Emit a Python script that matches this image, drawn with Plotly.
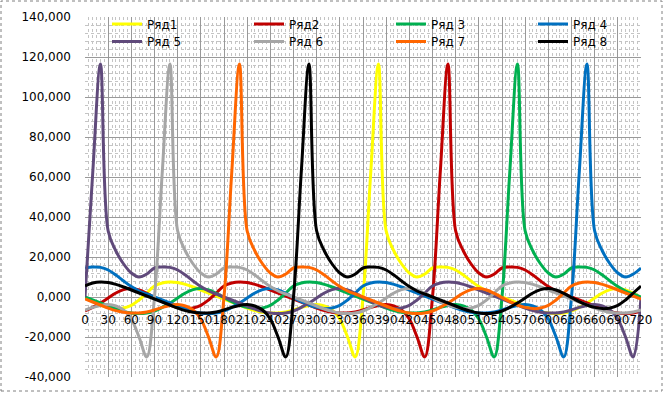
import plotly.graph_objects as go

# crank angle categories (degrees)
angles = list(range(0, 721, 10))

# series values
ryad1 = [-0.3, -2.3, -4, -5.2, -5.8, -5.5,
         -4.2, -1.5, 2, 5.5, 7, 7.5, 7.2, 6.3, 5, 3.5,
         2, 0.5, -1, -2.5, -4, -5.5, -6.8, -7.6, -8, -8,
         -7.5, -6.5, -5.2, -4.2, -3.8, -4.5, -6.5, -11, -20, -30,
         0, 62,
         116.5, 33, 23, 16.5, 12, 10, 11.5, 14.5, 15, 14.8,
         13.5, 11, 8, 5.2, 3, 1.5, 0, -1.5, -3, -4.5,
         -6, -7.2, -8, -8.3, -8, -7, -5.2, -3, -0.5, 2,
         3.7, 4.2, 3.5, 1.8, -0.3]
ryad2 = [-7, -5.2, -3, -0.5, 2,
         3.7, 4.2, 3.5, 1.8, -0.3, -2.3, -4, -5.2, -5.8, -5.5,
         -4.2, -1.5, 2, 5.5, 7, 7.5, 7.2, 6.3, 5, 3.5,
         2, 0.5, -1, -2.5, -4, -5.5, -6.8, -7.6, -8, -8,
         -7.5, -6.5, -5.2, -4.2, -3.8, -4.5, -6.5, -11, -20, -30,
         0, 62,
         116.5, 33, 23, 16.5, 12, 10, 11.5, 14.5, 15, 14.8,
         13.5, 11, 8, 5.2, 3, 1.5, 0, -1.5, -3, -4.5,
         -6, -7.2, -8, -8.3, -8, -7]
ryad3 = [0, -1.5, -3, -4.5,
         -6, -7.2, -8, -8.3, -8, -7, -5.2, -3, -0.5, 2,
         3.7, 4.2, 3.5, 1.8, -0.3, -2.3, -4, -5.2, -5.8, -5.5,
         -4.2, -1.5, 2, 5.5, 7, 7.5, 7.2, 6.3, 5, 3.5,
         2, 0.5, -1, -2.5, -4, -5.5, -6.8, -7.6, -8, -8,
         -7.5, -6.5, -5.2, -4.2, -3.8, -4.5, -6.5, -11, -20, -30,
         0, 62,
         116.5, 33, 23, 16.5, 12, 10, 11.5, 14.5, 15, 14.8,
         13.5, 11, 8, 5.2, 3, 1.5, 0]
ryad4 = [14.5, 15, 14.8,
         13.5, 11, 8, 5.2, 3, 1.5, 0, -1.5, -3, -4.5,
         -6, -7.2, -8, -8.3, -8, -7, -5.2, -3, -0.5, 2,
         3.7, 4.2, 3.5, 1.8, -0.3, -2.3, -4, -5.2, -5.8, -5.5,
         -4.2, -1.5, 2, 5.5, 7, 7.5, 7.2, 6.3, 5, 3.5,
         2, 0.5, -1, -2.5, -4, -5.5, -6.8, -7.6, -8, -8,
         -7.5, -6.5, -5.2, -4.2, -3.8, -4.5, -6.5, -11, -20, -30,
         0, 62,
         116.5, 33, 23, 16.5, 12, 10, 11.5, 14.5]
ryad5 = [0, 62,
         116.5, 33, 23, 16.5, 12, 10, 11.5, 14.5, 15, 14.8,
         13.5, 11, 8, 5.2, 3, 1.5, 0, -1.5, -3, -4.5,
         -6, -7.2, -8, -8.3, -8, -7, -5.2, -3, -0.5, 2,
         3.7, 4.2, 3.5, 1.8, -0.3, -2.3, -4, -5.2, -5.8, -5.5,
         -4.2, -1.5, 2, 5.5, 7, 7.5, 7.2, 6.3, 5, 3.5,
         2, 0.5, -1, -2.5, -4, -5.5, -6.8, -7.6, -8, -8,
         -7.5, -6.5, -5.2, -4.2, -3.8, -4.5, -6.5, -11, -20, -30,
         0]
ryad6 = [-6.5, -5.2, -4.2, -3.8, -4.5, -6.5, -11, -20, -30,
         0, 62,
         116.5, 33, 23, 16.5, 12, 10, 11.5, 14.5, 15, 14.8,
         13.5, 11, 8, 5.2, 3, 1.5, 0, -1.5, -3, -4.5,
         -6, -7.2, -8, -8.3, -8, -7, -5.2, -3, -0.5, 2,
         3.7, 4.2, 3.5, 1.8, -0.3, -2.3, -4, -5.2, -5.8, -5.5,
         -4.2, -1.5, 2, 5.5, 7, 7.5, 7.2, 6.3, 5, 3.5,
         2, 0.5, -1, -2.5, -4, -5.5, -6.8, -7.6, -8, -8,
         -7.5, -6.5]
ryad7 = [-1, -2.5, -4, -5.5, -6.8, -7.6, -8, -8,
         -7.5, -6.5, -5.2, -4.2, -3.8, -4.5, -6.5, -11, -20, -30,
         0, 62,
         116.5, 33, 23, 16.5, 12, 10, 11.5, 14.5, 15, 14.8,
         13.5, 11, 8, 5.2, 3, 1.5, 0, -1.5, -3, -4.5,
         -6, -7.2, -8, -8.3, -8, -7, -5.2, -3, -0.5, 2,
         3.7, 4.2, 3.5, 1.8, -0.3, -2.3, -4, -5.2, -5.8, -5.5,
         -4.2, -1.5, 2, 5.5, 7, 7.5, 7.2, 6.3, 5, 3.5,
         2, 0.5, -1]
ryad8 = [5.5, 7, 7.5, 7.2, 6.3, 5, 3.5,
         2, 0.5, -1, -2.5, -4, -5.5, -6.8, -7.6, -8, -8,
         -7.5, -6.5, -5.2, -4.2, -3.8, -4.5, -6.5, -11, -20, -30,
         0, 62,
         116.5, 33, 23, 16.5, 12, 10, 11.5, 14.5, 15, 14.8,
         13.5, 11, 8, 5.2, 3, 1.5, 0, -1.5, -3, -4.5,
         -6, -7.2, -8, -8.3, -8, -7, -5.2, -3, -0.5, 2,
         3.7, 4.2, 3.5, 1.8, -0.3, -2.3, -4, -5.2, -5.8, -5.5,
         -4.2, -1.5, 2, 5.5]

series_names = ["Ряд1", "Ряд2", "Ряд 3", "Ряд 4", "Ряд 5", "Ряд 6", "Ряд 7", "Ряд 8"]
series_values = [ryad1, ryad2, ryad3, ryad4, ryad5, ryad6, ryad7, ryad8]
series_colors = ["#FFFF00", "#C00000", "#00B050", "#0070C0",
                 "#604A7B", "#A6A6A6", "#FF6600", "#000000"]

x_tick_vals = list(range(0, 721, 30))
x_tick_text = [str(v) for v in x_tick_vals]
y_tick_vals = [-40, -20, 0, 20, 40, 60, 80, 100, 120, 140]
y_tick_text = ["-40,000", "-20,000", "0,000", "20,000", "40,000", "60,000",
               "80,000", "100,000", "120,000", "140,000"]

FONT = "DejaVu Sans"

W, H = 668, 393
L, R, T, B = 85, 641, 17, 377
pw, ph = R - L, B - T


def px_x(px):
    return (px - L) / pw


def px_y(py):
    return (B - py) / ph


legend_ids = ["legend"] + ["legend%d" % k for k in range(2, 9)]

fig = go.Figure()
for i, (name, vals, col) in enumerate(zip(series_names, series_values, series_colors)):
    assert len(vals) == len(angles)
    fig.add_trace(go.Scatter(
        x=angles, y=vals, name=name, mode="lines",
        line=dict(color=col, width=3, shape="spline", smoothing=1.0),
        legend=legend_ids[i],
    ))

layout_legends = {}
for i, lid in enumerate(legend_ids):
    col = i % 4
    row = i // 4
    layout_legends[lid] = dict(
        orientation="h",
        x=px_x(107 + 142 * col), y=px_y(24 + 17.5 * row),
        xanchor="left", yanchor="middle",
        bgcolor="rgba(0,0,0,0)", borderwidth=0,
        font=dict(family=FONT, size=12, color="#000000"),
        itemwidth=30,
    )

fig.update_layout(
    width=W, height=H,
    margin=dict(l=L, r=W - R, t=T, b=H - B, pad=0, autoexpand=False),
    paper_bgcolor="white", plot_bgcolor="white",
    font=dict(family=FONT, size=12, color="#000000"),
    showlegend=True,
    xaxis=dict(
        range=[0, 720], anchor="free", position=40 / 180,
        tickmode="array", tickvals=x_tick_vals, ticktext=x_tick_text,
        tickangle=0, ticks="", showline=False, zeroline=False,
        showgrid=True, gridcolor="#999999", gridwidth=1,
        minor=dict(dtick=5, tick0=0, showgrid=True, gridcolor="#c4c4c4", griddash="dot", gridwidth=1),
        tickfont=dict(family=FONT, size=12, color="#000000"),
        ticklabelstandoff=14, automargin=False,
    ),
    yaxis=dict(
        range=[-40, 140], domain=[0, 1],
        tickmode="array", tickvals=y_tick_vals, ticktext=y_tick_text,
        ticks="", showline=False, zeroline=False,
        showgrid=True, gridcolor="#999999", gridwidth=1,
        minor=dict(dtick=4, tick0=0, showgrid=True, gridcolor="#c4c4c4", griddash="dot", gridwidth=1),
        tickfont=dict(family=FONT, size=12, color="#000000"),
        ticklabelstandoff=13, automargin=False,
    ),
    shapes=[dict(type="rect", xref="paper", yref="paper",
                 x0=px_x(1), x1=px_x(662), y0=px_y(391), y1=px_y(1),
                 line=dict(color="#808080", width=1, dash="dot"), layer="above")],
    **layout_legends,
)

fig.write_html("out.html", config={"displayModeBar": False},
               post_script="document.body.style.margin='0px';document.body.style.padding='0px';")
